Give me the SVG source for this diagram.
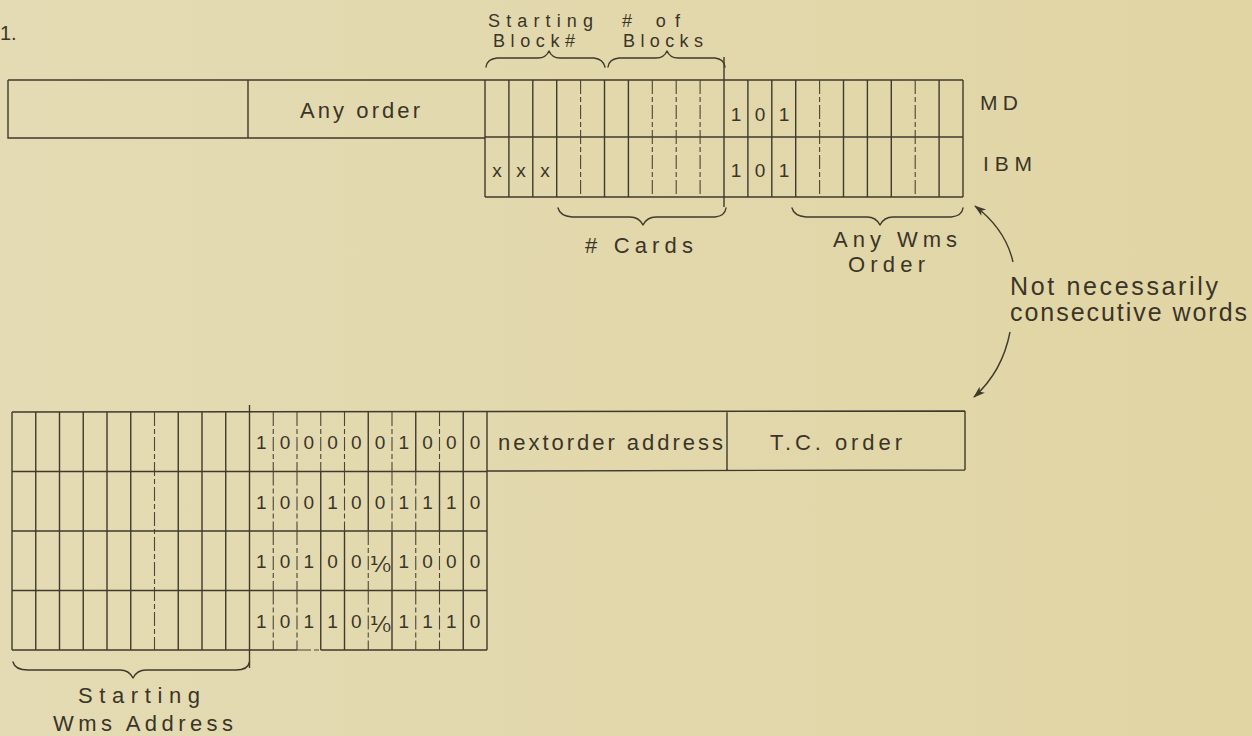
<svg xmlns="http://www.w3.org/2000/svg" width="1252" height="736" viewBox="0 0 1252 736">
<defs>
<linearGradient id="bg" x1="0" y1="0" x2="1" y2="0">
<stop offset="0" stop-color="#e4dbb4"/>
<stop offset="1" stop-color="#e1d5a4"/>
</linearGradient>
<marker id="ah" viewBox="0 0 12 10" refX="11" refY="5" markerWidth="12" markerHeight="10" markerUnits="userSpaceOnUse" orient="auto">
<path d="M0,1 L12,5 L0,9 L3,5 Z" fill="#3f3a2c"/>
</marker>
<style>
.s{stroke:#3f3a2c;stroke-width:1.4;fill:none}
.d{stroke:#4a4535;stroke-width:1.1;fill:none;stroke-dasharray:14 3 5 3}
.br{stroke:#3f3a2c;stroke-width:1.4;fill:none;stroke-linecap:round;stroke-linejoin:round}
.t{font-family:"Liberation Sans",Arial,sans-serif;fill:#3a3528}
.b{font-family:"Liberation Sans",Arial,sans-serif;fill:#3a3528;font-size:19px;text-anchor:middle}
.f{font-family:"DejaVu Sans",sans-serif;fill:#3a3528;font-size:22px;text-anchor:middle}
</style>
</defs>
<rect x="0" y="0" width="1252" height="736" fill="url(#bg)"/>

<text class="t" x="0" y="40" font-size="20">1.</text>

<!-- Top register: MD / IBM words -->
<g id="md-word">
<path class="s" d="M8,80 L963,80 M8,80 L8,138 L485,138 M248,80 L248,138"/>
<path class="s" d="M485,137 L963,137"/>
<path class="s" d="M485,80 L485,197 M508.9,80 L508.9,197 M532.8,80 L532.8,197 M556.7,80 L556.7,197 M604.5,80 L604.5,197 M628.4,80 L628.4,197 M724,57 L724,207 M747.9,80 L747.9,197 M771.8,80 L771.8,197 M795.7,80 L795.7,197 M843.5,80 L843.5,197 M867.4,80 L867.4,197 M891.3,80 L891.3,197 M939.1,80 L939.1,197 M963,80 L963,197"/>
<path class="d" d="M580.6,80 L580.6,197 M652.3,80 L652.3,197 M676.2,80 L676.2,197 M700.1,80 L700.1,197 M819.6,80 L819.6,197 M915.2,80 L915.2,197"/>
<text class="t" x="300" y="118" font-size="22" textLength="120" lengthAdjust="spacing">Any order</text>
<text class="b" x="736" y="121">1</text>
<text class="b" x="760" y="121">0</text>
<text class="b" x="784" y="121">1</text>
<text class="t" x="980" y="110" font-size="21" textLength="38" lengthAdjust="spacing">MD</text>
</g>
<g id="ibm-word">
<path class="s" d="M485,197 L963,197"/>
<text class="b" x="497" y="177">x</text>
<text class="b" x="521" y="177">x</text>
<text class="b" x="545" y="177">x</text>
<text class="b" x="736" y="177">1</text>
<text class="b" x="760" y="177">0</text>
<text class="b" x="784" y="177">1</text>
<text class="t" x="983" y="171" font-size="21" textLength="49" lengthAdjust="spacing">IBM</text>
</g>

<g id="label-starting-block">
<path class="br" d="M486,67 Q487,59 497,58 L538,58 Q546,58 549,51 Q552,58 560,58 L594,58 Q603,59 605,67"/>
<text class="t" x="488" y="27" font-size="18" textLength="105" lengthAdjust="spacing">Starting</text>
<text class="t" x="493" y="47" font-size="18" textLength="82" lengthAdjust="spacing">Block#</text>
</g>
<g id="label-num-blocks">
<path class="br" d="M608,67 Q609,59 619,58 L656,58 Q664,58 667,51 Q670,58 678,58 L715,58 Q724,59 725,67"/>
<text class="t" x="622" y="27" font-size="18" textLength="58" lengthAdjust="spacing"># of</text>
<text class="t" x="623" y="47" font-size="18" textLength="80" lengthAdjust="spacing">Blocks</text>
</g>
<g id="label-cards">
<path class="br" d="M558,208 Q560,216 572,217 L630,217 Q639,217 643,225 Q647,217 656,217 L715,217 Q725,216 726,208"/>
<text class="t" x="585" y="253" font-size="22" textLength="108" lengthAdjust="spacing"># Cards</text>
</g>
<g id="label-any-wms">
<path class="br" d="M792,208 Q794,216 806,217 L867,217 Q876,217 880,225 Q884,217 893,217 L951,217 Q962,216 963,208"/>
<text class="t" x="833" y="247" font-size="22" textLength="124" lengthAdjust="spacing">Any Wms</text>
<text class="t" x="848" y="272" font-size="22" textLength="77" lengthAdjust="spacing">Order</text>
</g>
<g id="label-not-consecutive">
<text class="t" x="1010" y="295" font-size="25" textLength="208" lengthAdjust="spacing">Not necessarily</text>
<text class="t" x="1010" y="321" font-size="25" textLength="237" lengthAdjust="spacing">consecutive words</text>
</g>

<!-- Bottom grid -->
<g id="tc-word">
<path class="s" d="M12,412 L965,411 M965,411 L965,470 M487,471 L965,470 M727,411 L727,471"/>
<path class="s" d="M12,412 L12,650 M35.75,412 L35.75,650 M59.5,412 L59.5,650 M83.25,412 L83.25,650 M107,412 L107,650 M130.75,412 L130.75,650 M178.25,412 L178.25,650 M202,412 L202,650 M225.75,412 L225.75,650 M249.5,405 L249.5,668 M487,412 L487,650"/>
<path class="d" d="M154.5,412 L154.5,650"/>
<path class="s" d="M12,471.5 L487,471.5 M12,531 L487,531 M12,590.5 L487,590.5 M12,650 L297,650 M320.75,650 L487,650"/>
<path class="d" d="M297,650 L320.75,650"/>
<path class="s" d="M368.25,412 L368.25,471.5 M415.75,412 L415.75,471.5 M463.25,412 L463.25,471.5"/>
<path class="d" d="M273.25,412 L273.25,471.5 M297,412 L297,471.5 M320.75,412 L320.75,471.5 M344.5,412 L344.5,471.5 M392,412 L392,471.5 M439.5,412 L439.5,471.5"/>
<text class="t" x="498" y="450" font-size="22" textLength="225" lengthAdjust="spacing">nextorder address</text>
<text class="t" x="770" y="450" font-size="22" textLength="132" lengthAdjust="spacing">T.C. order</text>
<g>
<text class="b" x="261.4" y="449">1</text><text class="b" x="285.1" y="449">0</text><text class="b" x="308.9" y="449">0</text><text class="b" x="332.6" y="449">0</text><text class="b" x="356.4" y="449">0</text><text class="b" x="380.1" y="449">0</text><text class="b" x="403.9" y="449">1</text><text class="b" x="427.6" y="449">0</text><text class="b" x="451.4" y="449">0</text><text class="b" x="475.1" y="449">0</text>
</g>
</g>
<g id="word-2">
<path class="s" d="M320.75,471.5 L320.75,531 M368.25,471.5 L368.25,531 M439.5,471.5 L439.5,531 M463.25,471.5 L463.25,531"/>
<path class="d" d="M273.25,471.5 L273.25,531 M297,471.5 L297,531 M344.5,471.5 L344.5,531 M392,471.5 L392,531 M415.75,471.5 L415.75,531"/>
<text class="b" x="261.4" y="509">1</text><text class="b" x="285.1" y="509">0</text><text class="b" x="308.9" y="509">0</text><text class="b" x="332.6" y="509">1</text><text class="b" x="356.4" y="509">0</text><text class="b" x="380.1" y="509">0</text><text class="b" x="403.9" y="509">1</text><text class="b" x="427.6" y="509">1</text><text class="b" x="451.4" y="509">1</text><text class="b" x="475.1" y="509">0</text>
</g>
<g id="word-3">
<path class="s" d="M320.75,531 L320.75,590.5 M344.5,531 L344.5,590.5 M392,531 L392,590.5 M463.25,531 L463.25,590.5"/>
<path class="d" d="M273.25,531 L273.25,590.5 M297,531 L297,590.5 M368.25,531 L368.25,590.5 M415.75,531 L415.75,590.5 M439.5,531 L439.5,590.5"/>
<text class="b" x="261.4" y="568">1</text><text class="b" x="285.1" y="568">0</text><text class="b" x="308.9" y="568">1</text><text class="b" x="332.6" y="568">0</text><text class="b" x="356.4" y="568">0</text>
<text class="f" x="380.5" y="572">¹⁄₀</text>
<text class="b" x="403.9" y="568">1</text><text class="b" x="427.6" y="568">0</text><text class="b" x="451.4" y="568">0</text><text class="b" x="475.1" y="568">0</text>
</g>
<g id="word-4">
<path class="s" d="M320.75,590.5 L320.75,650 M344.5,590.5 L344.5,650 M392,590.5 L392,650 M463.25,590.5 L463.25,650"/>
<path class="d" d="M273.25,590.5 L273.25,650 M297,590.5 L297,650 M368.25,590.5 L368.25,650 M415.75,590.5 L415.75,650 M439.5,590.5 L439.5,650"/>
<text class="b" x="261.4" y="628">1</text><text class="b" x="285.1" y="628">0</text><text class="b" x="308.9" y="628">1</text><text class="b" x="332.6" y="628">1</text><text class="b" x="356.4" y="628">0</text>
<text class="f" x="380.5" y="632">¹⁄₀</text>
<text class="b" x="403.9" y="628">1</text><text class="b" x="427.6" y="628">1</text><text class="b" x="451.4" y="628">1</text><text class="b" x="475.1" y="628">0</text>
</g>
<g id="label-starting-wms">
<path class="br" d="M13,662 Q15,670 28,670 L120,670 Q129,670 133,678 Q137,670 146,670 L236,670 Q248,670 249.5,662"/>
<text class="t" x="78" y="703" font-size="22" textLength="122" lengthAdjust="spacing">Starting</text>
<text class="t" x="53" y="731" font-size="22" textLength="180" lengthAdjust="spacing">Wms Address</text>
</g>

<g id="connectors">
<path class="s" d="M1013,262 C1008,240 996,222 975,206" marker-end="url(#ah)"/>
<path class="s" d="M1010,332 C1005,358 993,380 974,397" marker-end="url(#ah)"/>
</g>
</svg>
